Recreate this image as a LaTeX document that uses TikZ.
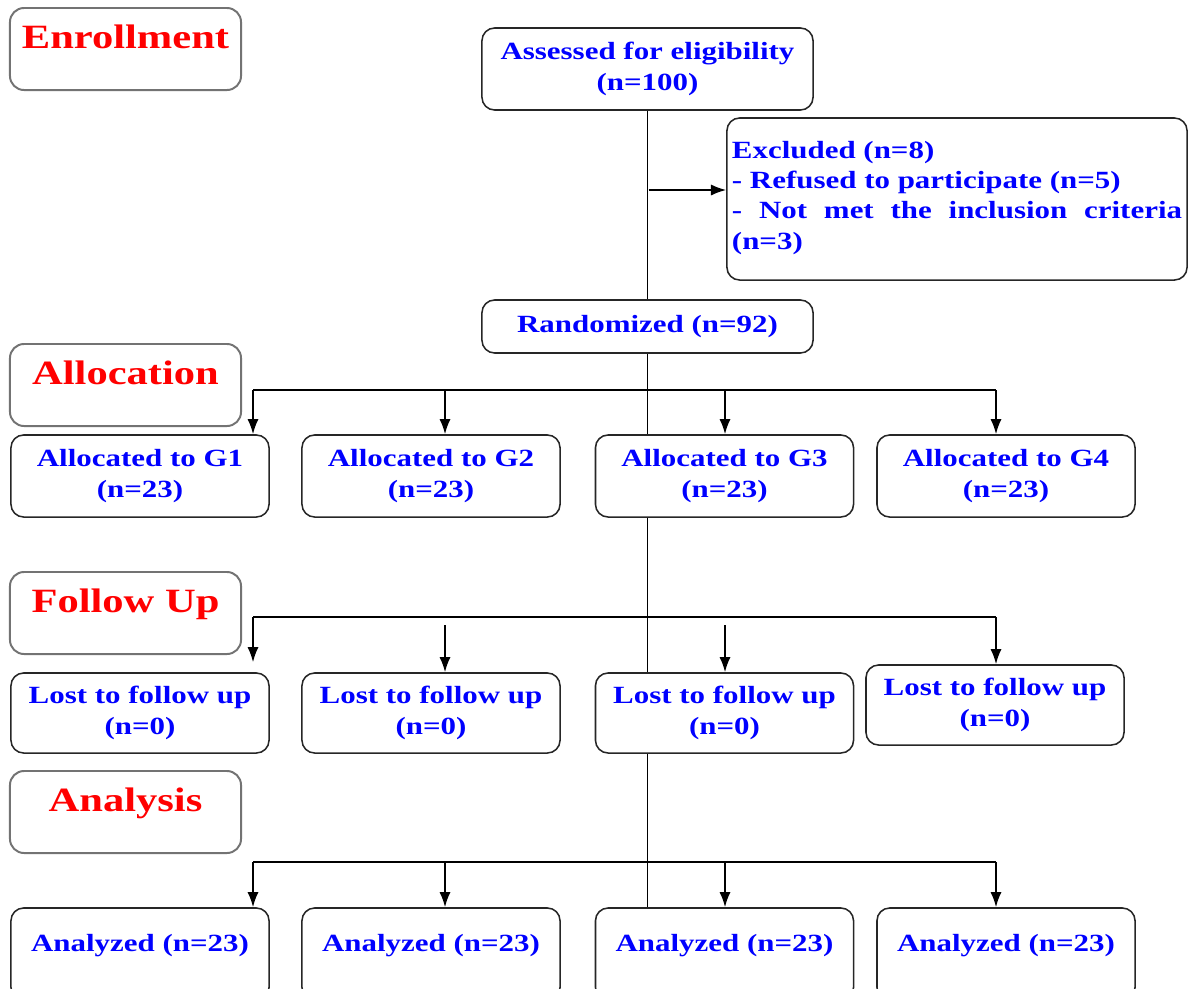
\documentclass[tikz,border=0pt]{standalone}
\usepackage{fontspec}
\setmainfont{Liberation Serif}[FakeStretch=1.25]
\usetikzlibrary{arrows.meta}
\tolerance=10000
\tikzset{
  phase/.style={draw=black!55, line width=1.4pt, rounded corners=10pt, minimum width=5.775cm,
    inner sep=0pt, text height=1cm, text depth=1.05cm, text=red,
    font=\fontsize{24.2}{28}\selectfont\bfseries},
  box/.style={draw=black!85, line width=1.1pt, rounded corners=9pt, minimum width=6.45cm,
    minimum height=2.05cm, align=center, text=blue,
    font=\fontsize{17.6}{21.5}\selectfont\bfseries},
  link/.style={line width=1.2pt},
}
\begin{document}
\begin{tikzpicture}[x=0.025cm,y=-0.025cm,>={Latex[length=3.8mm,width=2.8mm]}]
    \useasboundingbox (0,0) rectangle (1200,988);
    % phase labels
    \node[phase] (enr) at (125.5,49) {Enrollment};
    \node[phase] (alo) at (125.5,385) {Allocation};
    \node[phase] (fol) at (125.5,613) {Follow Up};
    \node[phase] (ana) at (125.5,812) {Analysis};
    % enrollment
    \node[box,minimum width=8.275cm] (assess) at (647.5,69) {Assessed for eligibility\\(n=100)};
    \node[box,minimum width=11.5cm,minimum height=4.05cm,text width=11.25cm,inner xsep=0.125cm,align=justify] (excl) at (957,199)
        {Excluded (n=8)\\- Refused to participate (n=5)\\- Not met the inclusion criteria (n=3)\\[-16pt]\mbox{}};
    \node[box,minimum width=8.275cm,minimum height=1.325cm] (rand) at (647.5,326.5) {Randomized (n=92)};
    % groups
    \foreach \g/\xp in {1/140,2/431,3/724.5,4/1006}{\node[box] (alloc\g) at (\xp,476) {Allocated to G\g\\(n=23)};}
    \foreach \g/\xp/\yp in {1/140/713,2/431/713,3/724.5/713,4/995/705}{\node[box,minimum height=2cm] (lost\g) at (\xp,\yp) {Lost to follow up\\(n=0)};}
    \foreach \g/\xp in {1/140,2/431,3/724.5,4/1006}{\node[box,inner ysep=0pt,text height=1.075cm,text depth=1.225cm] (done\g) at (\xp,954) {Analyzed (n=23)};}
    % main line
    \coordinate (split) at (648.5,190);
    \draw[link] (assess) -- (rand);
    \draw[link,->] (split) -- (split -| excl.west);
    \draw[link] (rand.south) -- (rand.south |- alloc3.north);
    \draw[link] (alloc3.south -| rand.south) -- (lost3.north -| rand.south);
    \draw[link] (lost3.south -| rand.south) -- (done3.north -| rand.south);
    % bars
    \foreach \g/\xp in {1/253,2/445,3/725,4/996}{
        \coordinate (a\g) at (\xp,390);
        \coordinate (c\g) at (\xp,862);}
    \foreach \g/\xp/\yp in {1/253/617,2/445/625,3/725/625,4/996/617}{\coordinate (f\g) at (\xp,\yp);}
    \draw[link] (a1) -- (a4);
    \draw[link] (f1) -- (f4 |- f1);
    \draw[link] (c1) -- (c4);
    \foreach \g in {1,...,4}{
        \draw[link,->] (a\g) -- (a\g |- alloc\g.north);
        \draw[link,->] (c\g) -- (c\g |- done\g.north);}
    \draw[link,->,shorten >=0.25cm] (f1) -- (f1 |- lost1.north);
    \foreach \g in {2,3,4}{\draw[link,->] (f\g) -- (f\g |- lost\g.north);}
\end{tikzpicture}
\end{document}
